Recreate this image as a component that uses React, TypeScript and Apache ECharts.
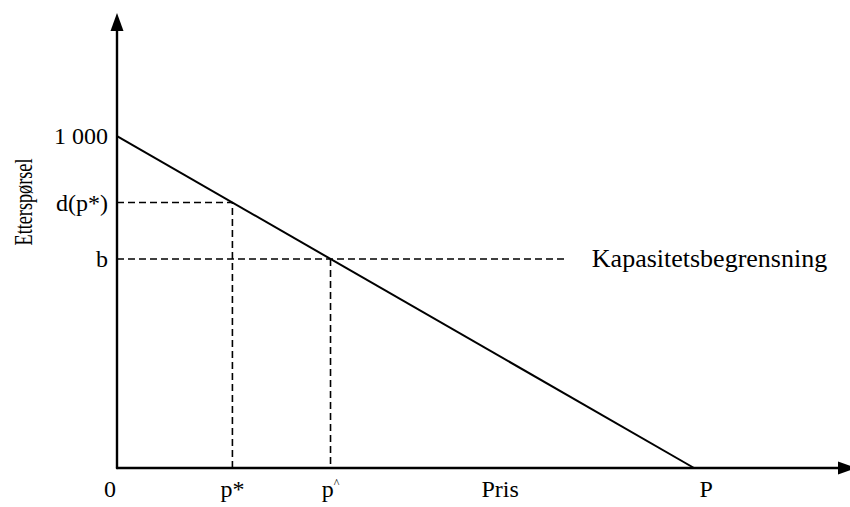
import React, { useEffect, useRef } from "react";
import * as echarts from "echarts";

// Ticks and labels
const priceTicks = [0, 200, 370, 664, 1000];
const priceLabels = ["0", "p*", "p^", "Pris", "P"];
const demandTicks = [1000, 800, 630];
const demandLabels = ["1 000", "d(p*)", "b"];

// Lines (price, demand)
const demandCurve = [
  [0, 1000],
  [1000, 0],
];
const dStarGuide = [
  [0, 800],
  [200, 800],
  [200, 0],
];
const capacityLine = [
  [0, 630],
  [776, 630],
];
const pHatGuide = [
  [370, 630],
  [370, 0],
];

const FONT = "Liberation Serif";
const FS = 24;

export default function App() {
  const ref = useRef<HTMLDivElement>(null);
  useEffect(() => {
    if (!ref.current) return;
    const chart = echarts.init(ref.current, undefined, { renderer: "svg" });
    const dashed = { color: "#000", width: 1.6, type: [7, 4] as any };
    chart.setOption({
      animation: false,
      backgroundColor: "#fff",
      grid: { left: 117, right: 3, top: 22, bottom: 39, containLabel: false },
      xAxis: {
        type: "value",
        min: 0,
        max: 1265,
        splitLine: { show: false },
        axisTick: { show: false },
        axisLine: {
          show: true,
          onZero: false,
          symbol: ["none", "triangle"],
          symbolSize: [13, 18],
          lineStyle: { color: "#000", width: 2.4 },
        },
        axisLabel: {
          customValues: priceTicks,
          margin: 9,
          color: "#000",
          fontFamily: FONT,
          fontSize: FS,
          formatter: (v: number) => {
            const i = priceTicks.indexOf(v);
            const t = i >= 0 ? priceLabels[i] : "";
            if (t === "0") return "{zero|0}";
            if (t === "P") return "{pp|P}";
            if (t === "p^") return "{p|p}{c|^}";
            return t;
          },
          rich: {
            zero: { fontFamily: FONT, fontSize: FS, color: "#000", padding: [0, 14, 0, 0] },
            pp: { fontFamily: FONT, fontSize: FS, color: "#000", padding: [0, 0, 0, 24] },
            p: { fontFamily: FONT, fontSize: FS, color: "#000" },
            c: { fontFamily: FONT, fontSize: 12, color: "#000", padding: [0, 0, 12, 0] },
          },
        },
      },
      yAxis: {
        type: "value",
        min: 0,
        max: 1344,
        splitLine: { show: false },
        axisTick: { show: false },
        axisLine: {
          show: true,
          onZero: false,
          symbol: ["none", "triangle"],
          symbolSize: [13, 18],
          lineStyle: { color: "#000", width: 2.4 },
        },
        axisLabel: {
          customValues: demandTicks,
          margin: 9,
          color: "#000",
          fontFamily: FONT,
          fontSize: FS,
          formatter: (v: number) => {
            const i = demandTicks.indexOf(v);
            return i >= 0 ? demandLabels[i] : "";
          },
        },
      },
      graphic: [
        {
          type: "text",
          x: 23,
          y: 202,
          rotation: Math.PI / 2,
          scaleX: 0.7,
          style: {
            text: "Etterspørsel",
            fontFamily: FONT,
            fontSize: 26,
            fill: "#000",
            align: "center",
            verticalAlign: "middle",
          },
        },
      ],
      series: [
        {
          type: "line",
          data: demandCurve,
          symbol: "none",
          lineStyle: { color: "#000", width: 2 },
          z: 3,
        },
        {
          type: "line",
          data: dStarGuide,
          symbol: "none",
          lineStyle: dashed,
        },
        {
          type: "line",
          data: capacityLine,
          symbol: "none",
          lineStyle: dashed,
          endLabel: {
            show: true,
            formatter: "Kapasitetsbegrensning",
            distance: 27,
            color: "#000",
            fontFamily: FONT,
            fontSize: 26,
          },
        },
        {
          type: "line",
          data: pHatGuide,
          symbol: "none",
          lineStyle: dashed,
        },
      ],
    });
    return () => chart.dispose();
  }, []);
  return (
    <div
      ref={ref}
      style={{ position: "absolute", left: 0, top: 0, width: 850, height: 507 }}
    />
  );
}
